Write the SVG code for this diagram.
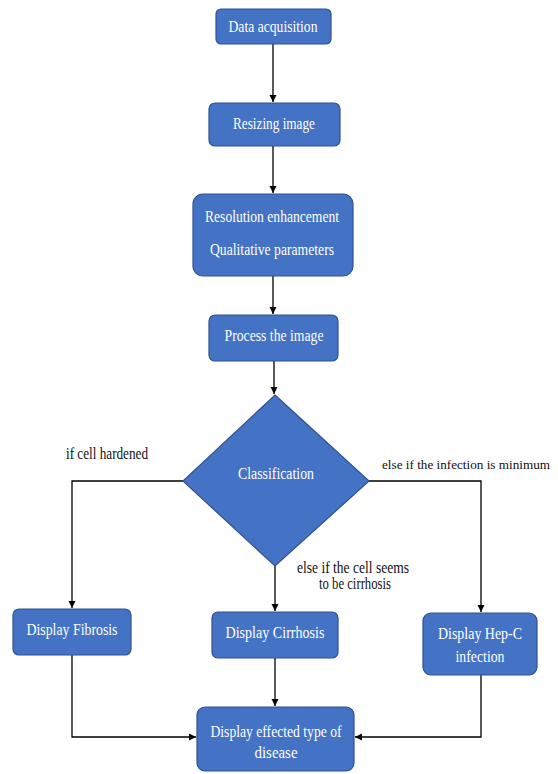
<svg xmlns="http://www.w3.org/2000/svg" width="558" height="774" viewBox="0 0 558 774">
<style>
.box{fill:#4472C4;stroke:#2F528F;stroke-width:1.2}
.t{font-family:"Liberation Serif","DejaVu Serif",serif;font-size:16px;fill:#ffffff;text-anchor:middle}
.l{font-family:"Liberation Serif","DejaVu Serif",serif;font-size:16px;fill:#111111;text-anchor:middle}
.s{font-size:13px}
.c{fill:none;stroke:#000000;stroke-width:1.3}
</style>
<defs>
<marker id="ah" markerWidth="8" markerHeight="8" refX="7" refY="4" orient="auto" markerUnits="userSpaceOnUse">
<path d="M0,0.5 L7,4 L0,7.5 Z" fill="#000000"/>
</marker>
</defs>
<rect width="558" height="774" fill="#ffffff"/>
<g id="connectors">
<path class="c" d="M273,44 V102" marker-end="url(#ah)"/>
<path class="c" d="M273,146 V193" marker-end="url(#ah)"/>
<path class="c" d="M273,276 V314" marker-end="url(#ah)"/>
<path class="c" d="M274,361 V394" marker-end="url(#ah)"/>
<path class="c" d="M183,481 H72 V608" marker-end="url(#ah)"/>
<path class="c" d="M369,481 H481 V612" marker-end="url(#ah)"/>
<path class="c" d="M275,566 V611" marker-end="url(#ah)"/>
<path class="c" d="M275,658 V706" marker-end="url(#ah)"/>
<path class="c" d="M72,655 V737 H196" marker-end="url(#ah)"/>
<path class="c" d="M481,675 V737 H355" marker-end="url(#ah)"/>
</g>
<g id="labels">
<text class="l" x="107" y="459" textLength="82" lengthAdjust="spacingAndGlyphs">if cell hardened</text>
<text class="l s" x="466" y="469" textLength="168" lengthAdjust="spacingAndGlyphs">else if the infection is minimum</text>
<text class="l" x="353" y="573" textLength="112" lengthAdjust="spacingAndGlyphs">else if the cell seems</text>
<text class="l" x="355" y="589" textLength="72" lengthAdjust="spacingAndGlyphs">to be cirrhosis</text>
</g>
<g id="n-data">
<rect class="box" x="216" y="9" width="115" height="35" rx="5"/>
<text class="t" x="273" y="32" textLength="89" lengthAdjust="spacingAndGlyphs">Data acquisition</text>
</g>
<g id="n-resize">
<rect class="box" x="209" y="103" width="131" height="43" rx="6"/>
<text class="t" x="274" y="129" textLength="82" lengthAdjust="spacingAndGlyphs">Resizing image</text>
</g>
<g id="n-resolution">
<rect class="box" x="193" y="194" width="160" height="82" rx="10"/>
<text class="t" x="272" y="222" textLength="134" lengthAdjust="spacingAndGlyphs">Resolution enhancement</text>
<text class="t" x="272" y="255" textLength="124" lengthAdjust="spacingAndGlyphs">Qualitative parameters</text>
</g>
<g id="n-process">
<rect class="box" x="209" y="315" width="129" height="46" rx="6"/>
<text class="t" x="274" y="341" textLength="99" lengthAdjust="spacingAndGlyphs">Process the image</text>
</g>
<g id="n-classification">
<polygon class="box" points="275,395 369,481 275,566 183,481"/>
<text class="t" x="276" y="479" textLength="76" lengthAdjust="spacingAndGlyphs">Classification</text>
</g>
<g id="n-fibrosis">
<rect class="box" x="13" y="609" width="118" height="46" rx="6"/>
<text class="t" x="72" y="635" textLength="91" lengthAdjust="spacingAndGlyphs">Display Fibrosis</text>
</g>
<g id="n-cirrhosis">
<rect class="box" x="212" y="612" width="126" height="46" rx="6"/>
<text class="t" x="275" y="638" textLength="99" lengthAdjust="spacingAndGlyphs">Display Cirrhosis</text>
</g>
<g id="n-hepc">
<rect class="box" x="423" y="613" width="114" height="62" rx="8"/>
<text class="t" x="480" y="639" textLength="84" lengthAdjust="spacingAndGlyphs">Display Hep-C</text>
<text class="t" x="480" y="662" textLength="49" lengthAdjust="spacingAndGlyphs">infection</text>
</g>
<g id="n-final">
<rect class="box" x="197" y="707" width="157" height="64" rx="8"/>
<text class="t" x="276" y="737" textLength="131" lengthAdjust="spacingAndGlyphs">Display effected type of</text>
<text class="t" x="276" y="758" textLength="43" lengthAdjust="spacingAndGlyphs">disease</text>
</g>
</svg>
